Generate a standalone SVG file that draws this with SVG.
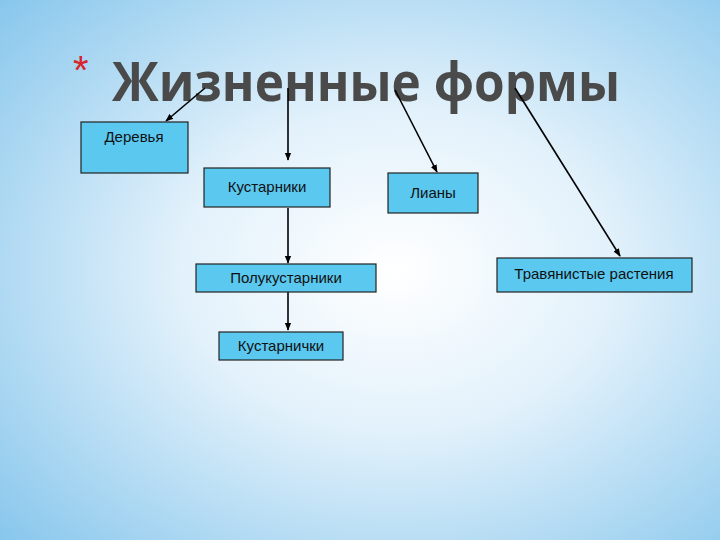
<svg xmlns="http://www.w3.org/2000/svg" width="720" height="540" viewBox="0 0 720 540">
<defs>
<radialGradient id="bg" cx="0.55" cy="0.5" r="0.75">
<stop offset="0" stop-color="#ffffff"/>
<stop offset="0.4" stop-color="#e2f1fb"/>
<stop offset="1" stop-color="#86c6ec"/>
</radialGradient>
<marker id="ah" viewBox="0 0 10 10" refX="9" refY="5" markerWidth="5" markerHeight="5" orient="auto">
<path d="M0,1 L10,5 L0,9 z" fill="#000"/>
</marker>
<style>
.box{fill:#5bc8f0;stroke:#222;stroke-width:1.2}
.t{font-family:"Liberation Sans",Arial,sans-serif;font-size:15px;fill:#111;text-anchor:middle}
.c line{stroke:#000;stroke-width:1.6;marker-end:url(#ah)}
</style>
</defs>
<rect width="720" height="540" fill="url(#bg)"/>
<text x="73" y="84" font-family="'Liberation Sans',sans-serif" font-size="40" fill="#d8242a">*</text>
<text x="112" y="101" font-family="'Open Sans','DejaVu Sans',sans-serif" font-weight="bold" font-size="54" fill="#4a4a4a" textLength="508" lengthAdjust="spacingAndGlyphs">Жизненные формы</text>
<g class="c">
<line x1="205" y1="88" x2="166" y2="121"/>
<line x1="288" y1="88" x2="288" y2="160"/>
<line x1="395" y1="90" x2="437" y2="172"/>
<line x1="515" y1="88" x2="620" y2="256"/>
<line x1="288" y1="208" x2="288" y2="263"/>
<line x1="288" y1="292" x2="288" y2="330"/>
</g>
<g id="n1"><rect class="box" x="81" y="122" width="107" height="51"/><text class="t" x="134" y="142">Деревья</text></g>
<g id="n2"><rect class="box" x="204" y="168" width="126" height="39"/><text class="t" x="267" y="192">Кустарники</text></g>
<g id="n3"><rect class="box" x="388" y="173" width="90" height="40"/><text class="t" x="433" y="198">Лианы</text></g>
<g id="n4"><rect class="box" x="196" y="264" width="180" height="28"/><text class="t" x="286" y="283">Полукустарники</text></g>
<g id="n5"><rect class="box" x="219" y="332" width="124" height="28"/><text class="t" x="281" y="351">Кустарнички</text></g>
<g id="n6"><rect class="box" x="497" y="258" width="195" height="34"/><text class="t" x="594" y="279">Травянистые растения</text></g>
</svg>
